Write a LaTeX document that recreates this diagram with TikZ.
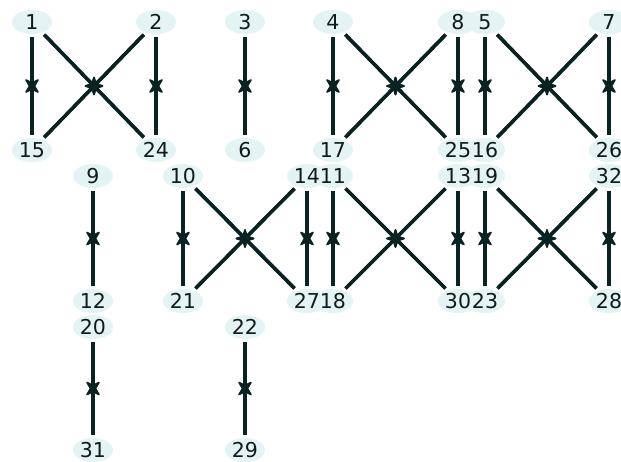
\documentclass[tikz,border=0pt]{standalone}
\usepackage{fontspec}
\setmainfont{DejaVu Sans}
\usetikzlibrary{shapes.geometric,arrows.meta,decorations.markings}
\pgfdeclarelayer{bg}
\pgfdeclarelayer{edges}
\pgfdeclarelayer{blobs}
\pgfsetlayers{bg,edges,blobs,main}
\definecolor{nodefill}{RGB}{228,243,244}
\definecolor{edgecol}{RGB}{10,34,34}
\definecolor{txtcol}{RGB}{16,28,28}
\tikzset{
  vtx/.style={ellipse, fill=nodefill, draw=none, inner sep=0pt,
    minimum width=40pt, minimum height=24pt},
  lbl/.style={inner sep=0pt, text=txtcol, font=\fontsize{20.5pt}{20.5pt}\selectfont},
  half/.style={draw=edgecol, line width=3.4pt, shorten <=3pt, shorten >=3pt,
    postaction={decorate},
    decoration={markings, mark=at position 0.5 with {
      \filldraw[edgecol, line width=1.6pt, line join=round]
        (4pt,0pt) -- (-6pt,6pt) -- (-3pt,0pt) -- (-6pt,-6pt) -- cycle;}}},
}
\newcommand{\biedge}[2]{\draw[half] (n#1) -- (n#2); \draw[half] (n#2) -- (n#1);}
\begin{document}
\begin{tikzpicture}[x=1pt,y=-1pt]
\useasboundingbox (0,0) rectangle (621,461);
\begin{pgfonlayer}{bg}
\fill[white] (0,0) rectangle (621,461);
\end{pgfonlayer}
\begin{pgfonlayer}{blobs}
\foreach \n/\x/\y in {1/32/22, 2/156/22, 3/245/22, 4/333/22, 8/458/22, 5/485/22, 7/609/22,
  15/32/150, 24/156/150, 6/245/150, 17/333/150, 25/458/150, 16/485/150, 26/609/150,
  9/93/176, 10/183/176, 14/307/176, 11/333/176, 13/458/176, 19/485/176, 32/609/176,
  12/93/301, 21/183/301, 27/307/301, 18/333/301, 30/458/301, 23/485/301, 28/609/301,
  20/93/327, 22/245/327, 31/93/450, 29/245/450}
  {\node[vtx] (n\n) at (\x,\y) {};}
\end{pgfonlayer}
\foreach \n in {1,2,3,4,5,6,7,8,9,10,11,12,13,14,15,16,17,18,19,20,21,22,23,24,25,26,27,28,29,30,31,32}
  {\node[lbl] (l\n) at (n\n) {\n};}
\begin{pgfonlayer}{edges}
\biedge{1}{15} \biedge{2}{24} \biedge{1}{24} \biedge{2}{15}
\biedge{3}{6}
\biedge{4}{17} \biedge{8}{25} \biedge{4}{25} \biedge{8}{17}
\biedge{5}{16} \biedge{7}{26} \biedge{5}{26} \biedge{7}{16}
\biedge{9}{12}
\biedge{10}{21} \biedge{14}{27} \biedge{10}{27} \biedge{14}{21}
\biedge{11}{18} \biedge{13}{30} \biedge{11}{30} \biedge{13}{18}
\biedge{19}{23} \biedge{32}{28} \biedge{19}{28} \biedge{32}{23}
\biedge{20}{31}
\biedge{22}{29}
\end{pgfonlayer}
\end{tikzpicture}
\end{document}
